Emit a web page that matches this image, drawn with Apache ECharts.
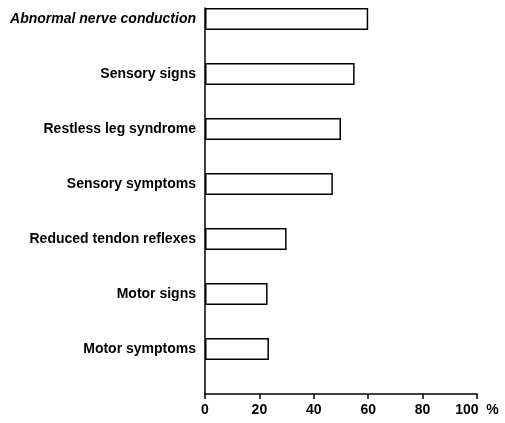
<!DOCTYPE html>
<html>
<head>
<meta charset="utf-8">
<script src="https://cdn.jsdelivr.net/npm/echarts@6/dist/echarts.min.js"></script>
<style>
    html, body { margin: 0; padding: 0; background: #fff; }
    #chart { width: 505px; height: 423px; }
</style>
</head>
<body>
<div id="chart"></div>
<script>
    // categories, top to bottom
    const categories = [
        'Abnormal nerve conduction',
        'Sensory signs',
        'Restless leg syndrome',
        'Sensory symptoms',
        'Reduced tendon reflexes',
        'Motor signs',
        'Motor symptoms'
    ]
    // percent of patients
    const values = [60, 55, 50, 47, 30, 23, 23.5]
    const xTicks = [0, 20, 40, 60, 80, 100]

    const chart = echarts.init(document.getElementById('chart'))
    const font = 'Liberation Sans'

    const option = {
        animation: false,
        grid: [
            // bars grid: first and last category on the edges, 55px apart
            { left: 205, right: 28, top: 19, height: 330 },
            // frame grid for the axis lines
            { left: 205, right: 28, top: 8, bottom: 29 }
        ],
        xAxis: [
            {
                gridIndex: 0,
                type: 'value',
                min: 0,
                max: 100,
                show: false
            },
            {
                gridIndex: 1,
                type: 'value',
                min: 0,
                max: 100,
                interval: 20,
                axisLine: { lineStyle: { color: '#000', width: 1.5 } },
                axisTick: { show: true, length: 5, lineStyle: { color: '#000', width: 1.5 } },
                splitLine: { show: false },
                axisLabel: {
                    color: '#000',
                    fontFamily: font,
                    fontWeight: 'bold',
                    fontSize: 14,
                    margin: 9,
                    formatter: function(v) {
                        return v === xTicks[xTicks.length - 1] ? v + '  %' : String(v)
                    }
                }
            }
        ],
        yAxis: [
            {
                gridIndex: 0,
                type: 'category',
                data: categories,
                inverse: true,
                boundaryGap: false,
                axisLine: { show: false },
                axisTick: { show: false },
                axisLabel: {
                    color: '#000',
                    fontFamily: font,
                    fontWeight: 'bold',
                    fontSize: 14,
                    margin: 9,
                    formatter: function(v, i) {
                        return i === 0 ? '{it|' + v + '}' : v
                    },
                    rich: {
                        it: {
                            fontStyle: 'italic',
                            fontWeight: 'bold',
                            fontFamily: font,
                            fontSize: 14,
                            color: '#000'
                        }
                    }
                }
            },
            {
                gridIndex: 1,
                type: 'value',
                min: 0,
                max: 1,
                axisLine: { show: true, lineStyle: { color: '#000', width: 1.5 } },
                axisTick: { show: false },
                axisLabel: { show: false },
                splitLine: { show: false }
            }
        ],
        series: [
            {
                type: 'bar',
                xAxisIndex: 0,
                yAxisIndex: 0,
                data: values,
                barWidth: 22,
                itemStyle: {
                    color: '#fff',
                    borderColor: '#000',
                    borderWidth: 1.5
                }
            }
        ]
    }
    chart.setOption(option)
</script>
</body>
</html>
